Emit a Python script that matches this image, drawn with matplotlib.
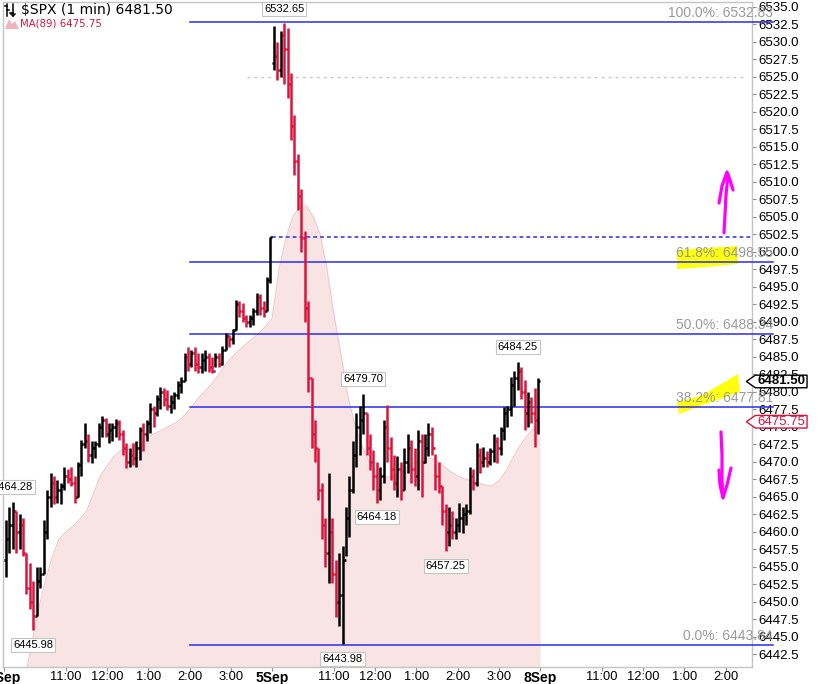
import numpy as np
import matplotlib
matplotlib.use('Agg')
import matplotlib.pyplot as plt
import matplotlib.transforms as mtransforms
from matplotlib.collections import LineCollection
from matplotlib.patches import Polygon

# ---- 5-minute bars, 9:30 -> 16:00 (78 per session) ----
sep4_open = 6456.0
sep4_high = [6461.7, 6463.5, 6464.28, 6463.0, 6462.5, 6462.0, 6457.0, 6455.5, 6453.0, 6455.0,
             6455.0, 6461.7, 6466.0, 6468.4, 6468.0, 6467.4, 6467.0, 6469.3, 6469.0, 6469.3,
             6468.0, 6470.0, 6473.1, 6475.5, 6474.0, 6473.0, 6473.0, 6475.5, 6476.5, 6476.3,
             6475.5, 6475.5, 6476.2, 6476.0, 6474.5, 6472.7, 6472.0, 6472.7, 6473.0, 6475.0,
             6475.5, 6476.0, 6478.4, 6478.0, 6479.5, 6480.7, 6480.5, 6480.3, 6479.5, 6480.0,
             6481.5, 6482.1, 6485.6, 6486.4, 6486.0, 6486.4, 6485.5, 6485.5, 6486.0, 6485.5,
             6485.0, 6485.6, 6485.5, 6486.5, 6488.4, 6488.2, 6489.0, 6493.1, 6493.0, 6492.7,
             6491.0, 6491.0, 6492.0, 6494.1, 6494.0, 6493.0, 6496.4, 6502.1]
sep4_low = [6453.6, 6457.0, 6457.5, 6457.0, 6457.5, 6456.5, 6451.2, 6449.0, 6445.98, 6448.0,
            6452.0, 6454.0, 6459.0, 6463.5, 6464.0, 6464.1, 6464.0, 6466.0, 6467.0, 6466.5,
            6464.1, 6465.0, 6468.0, 6472.0, 6470.0, 6469.8, 6470.5, 6472.2, 6473.6, 6473.5,
            6472.7, 6473.0, 6473.5, 6473.1, 6471.0, 6469.1, 6469.3, 6469.5, 6469.3, 6470.3,
            6471.5, 6473.0, 6474.1, 6475.0, 6476.5, 6477.5, 6478.0, 6477.4, 6477.0, 6477.5,
            6479.0, 6479.9, 6481.5, 6483.0, 6483.5, 6483.0, 6482.7, 6482.7, 6483.0, 6482.8,
            6482.7, 6483.6, 6483.6, 6483.8, 6486.0, 6486.4, 6486.8, 6488.8, 6490.7, 6490.0,
            6489.3, 6489.3, 6489.5, 6491.0, 6491.0, 6490.7, 6491.5, 6495.6]
sep4_close = [6459.0, 6461.0, 6463.0, 6460.0, 6461.0, 6457.0, 6452.0, 6450.0, 6448.0, 6453.0,
              6454.0, 6460.0, 6465.0, 6467.0, 6465.0, 6466.0, 6466.5, 6468.0, 6467.5, 6467.0,
              6465.0, 6469.5, 6472.5, 6473.0, 6471.0, 6472.0, 6472.5, 6475.0, 6476.0, 6474.0,
              6474.5, 6475.0, 6475.5, 6474.0, 6472.0, 6470.0, 6471.0, 6470.5, 6472.0, 6474.5,
              6474.0, 6475.5, 6477.5, 6477.0, 6479.0, 6480.0, 6479.0, 6478.0, 6478.5, 6479.5,
              6481.0, 6481.5, 6485.0, 6484.0, 6485.5, 6484.0, 6483.5, 6484.5, 6485.0, 6483.5,
              6483.0, 6485.0, 6484.0, 6486.0, 6488.0, 6487.5, 6488.8, 6492.5, 6491.5, 6490.5,
              6490.0, 6490.5, 6491.5, 6493.5, 6492.0, 6491.5, 6496.0, 6502.08]

sep5_open = 6527.0
sep5_high = [6532.3, 6530.0, 6531.5, 6532.65, 6532.0, 6525.5, 6519.5, 6514.0, 6509.0, 6503.0,
             6493.0, 6482.0, 6476.0, 6472.0, 6467.0, 6462.0, 6468.4, 6462.0, 6456.0, 6457.0,
             6458.0, 6463.6, 6468.0, 6473.0, 6477.0, 6478.0, 6479.7, 6477.0, 6474.0, 6471.7,
             6470.0, 6469.3, 6476.0, 6478.1, 6473.6, 6471.0, 6470.8, 6470.0, 6472.0, 6474.0,
             6473.1, 6472.0, 6474.6, 6474.0, 6474.0, 6475.5, 6475.0, 6471.2, 6470.0, 6466.5,
             6464.0, 6463.6, 6463.0, 6462.0, 6464.1, 6463.5, 6464.0, 6469.3, 6469.0, 6472.7,
             6472.0, 6472.2, 6471.5, 6472.0, 6474.0, 6473.5, 6475.0, 6477.9, 6478.0, 6482.2,
             6483.0, 6484.25, 6483.5, 6481.7, 6480.0, 6479.3, 6480.5, 6482.0]
sep5_low = [6526.0, 6524.5, 6525.0, 6524.0, 6522.0, 6516.0, 6511.0, 6506.0, 6500.0, 6490.0,
            6480.0, 6472.0, 6470.0, 6464.5, 6459.0, 6455.0, 6452.7, 6452.7, 6447.9, 6446.5,
            6443.98, 6456.5, 6459.3, 6465.5, 6469.3, 6471.0, 6474.0, 6471.0, 6468.9, 6466.0,
            6464.18, 6464.6, 6467.0, 6470.0, 6467.4, 6466.0, 6465.0, 6464.5, 6466.0, 6468.4,
            6467.0, 6466.5, 6466.0, 6465.0, 6469.8, 6470.8, 6471.0, 6466.0, 6465.5, 6461.0,
            6457.25, 6458.0, 6459.0, 6459.0, 6460.0, 6459.8, 6461.0, 6462.5, 6466.0, 6466.5,
            6468.4, 6469.3, 6469.3, 6469.5, 6470.0, 6469.8, 6471.0, 6473.1, 6475.0, 6476.5,
            6478.0, 6480.3, 6479.0, 6474.6, 6475.0, 6475.5, 6472.2, 6474.0]
sep5_close = [6528.0, 6526.0, 6531.0, 6529.0, 6524.0, 6518.0, 6513.0, 6508.0, 6502.0, 6492.0,
              6482.0, 6474.0, 6472.0, 6466.0, 6461.0, 6457.0, 6460.0, 6454.0, 6450.0, 6451.0,
              6456.0, 6462.0, 6466.0, 6471.0, 6475.0, 6476.0, 6477.0, 6472.0, 6470.0, 6468.0,
              6466.0, 6468.0, 6475.0, 6472.0, 6469.0, 6467.0, 6469.0, 6466.0, 6470.0, 6472.0,
              6469.0, 6468.0, 6473.0, 6470.0, 6472.0, 6474.0, 6472.0, 6468.0, 6466.5, 6463.0,
              6460.0, 6461.0, 6460.0, 6461.0, 6462.0, 6462.5, 6463.0, 6468.0, 6467.0, 6471.0,
              6470.0, 6470.5, 6470.0, 6471.5, 6473.0, 6472.0, 6474.5, 6477.0, 6477.5, 6481.0,
              6482.0, 6483.0, 6480.0, 6477.0, 6478.5, 6477.0, 6476.0, 6481.5]

# MA(89) read every 10 minutes from 9:30
ma_sep4 = [6420.0, 6426.0, 6432.0, 6439.0, 6444.0, 6449.0, 6453.0, 6456.5, 6459.0, 6460.0,
           6460.8, 6461.8, 6463.0, 6465.5, 6468.0, 6469.5, 6470.8, 6471.6, 6472.2, 6472.7,
           6473.2, 6473.6, 6474.1, 6474.6, 6475.1, 6475.6, 6476.4, 6477.5, 6478.8, 6479.9,
           6480.9, 6482.2, 6483.6, 6484.8, 6485.8, 6486.7, 6487.5, 6488.3, 6489.3]
ma_sep5 = [6490.5, 6497.5, 6502.0, 6505.0, 6506.5, 6506.6, 6505.0, 6502.5, 6497.5, 6491.0,
           6485.5, 6479.5, 6475.5, 6472.5, 6470.3, 6468.8, 6468.0, 6467.8, 6468.2, 6468.8,
           6469.5, 6470.0, 6470.4, 6470.6, 6470.2, 6469.4, 6468.6, 6468.0, 6467.6, 6467.3,
           6467.0, 6466.7, 6466.6, 6467.3, 6468.6, 6470.5, 6472.2, 6473.6, 6474.8, 6475.75]

fib_pct = ['100.0%', '61.8%', '50.0%', '38.2%', '0.0%']
fib_val = [6532.83, 6498.55, 6488.34, 6477.81, 6443.84]
prev_close = 6502.08
marker_level = 6525.0

# (session, bar, side) of the labelled highs / lows
hl_labels = [(0, 2, 'high'), (0, 8, 'low'), (1, 3, 'high'), (1, 20, 'low'),
             (1, 26, 'high'), (1, 30, 'low'), (1, 50, 'low'), (1, 71, 'high')]

day_names = ['4Sep', '5Sep', '8Sep']
hour_names = ['11:00', '12:00', '1:00', '2:00', '3:00']
hour_offsets = [90, 150, 210, 270, 330]

last_price = 6481.50
last_ma = 6475.75

SESSION = 390
BLUE = '#2b2be8'
RED = '#dc143c'

W, H = 822, 684
fig = plt.figure(figsize=(W / 100, H / 100), dpi=100)
fig.patch.set_facecolor('white')
ax = fig.add_axes([3 / W, 17 / H, 749 / W, 665 / H])
ax.set_facecolor('none')
pix = mtransforms.Affine2D().scale(1 / W, -1 / H).translate(0, 1) + fig.transFigure
xdata_ydata = mtransforms.blended_transform_factory(ax.transAxes, ax.transData)

xmin, xmax = -1.7, 1088.5
ymin, ymax = 6440.71, 6535.71

sessions = [(sep4_open, sep4_high, sep4_low, sep4_close),
            (sep5_open, sep5_high, sep5_low, sep5_close)]

# MA mountain
ma_x = np.concatenate([np.arange(len(ma_sep4)) * 10.0,
                       SESSION + np.arange(len(ma_sep5)) * 10.0])
ma_y = np.array(ma_sep4 + ma_sep5)
ax.fill_between(ma_x, ymin - 5, ma_y, color='#f8e4e5', lw=0, zorder=1)
ax.plot(ma_x, ma_y, color='#f1c9ce', lw=0.8, zorder=1.2)

# OHLC bars
segs, cols = [], []
for d, (op0, hi, lo, cl) in enumerate(sessions):
    opens = [op0] + cl[:-1]
    for i in range(len(hi)):
        x = d * SESSION + 5 * i + 2.5
        c = 'black' if cl[i] >= opens[i] else RED
        segs += [[(x, lo[i]), (x, hi[i])],
                 [(x - 2.6, opens[i]), (x, opens[i])],
                 [(x, cl[i]), (x + 2.6, cl[i])]]
        cols += [c, c, c]
ax.add_collection(LineCollection(segs, colors=cols, linewidths=1.8, zorder=4))

# fib retracement lines and labels
x_start = (270 - xmin) / (xmax - xmin)
x_end = 1.028
for pct, val in zip(fib_pct, fib_val):
    ax.plot([x_start, x_end], [val, val], color=BLUE, lw=1.1, transform=xdata_ydata,
            clip_on=False, zorder=3)
    ax.annotate(f'{pct}: {val:.2f}', xy=(x_end, val), xycoords=xdata_ydata,
                xytext=(0, 1.5), textcoords='offset points', ha='right', va='bottom',
                fontsize=10, color='#9a9a9a', family='Liberation Sans',
                annotation_clip=False, zorder=6)

ax.plot([SESSION, xmax], [prev_close, prev_close], color=BLUE, lw=1.1,
        ls=(0, (2.5, 2)), zorder=3)
ax.plot([354, 1075], [marker_level, marker_level], color='#c8c8c8', lw=1,
        ls=(0, (2, 3)), zorder=2)

# high / low value boxes
for d, i, side in hl_labels:
    hi, lo = sessions[d][1], sessions[d][2]
    x = d * SESSION + 5 * i + 2.5
    val = hi[i] if side == 'high' else lo[i]
    dy = 7 if side == 'high' else -7
    ax.annotate(f'{val:.2f}', xy=(x, val), xytext=(0, dy), textcoords='offset points',
                ha='center', va='bottom' if side == 'high' else 'top',
                fontsize=8, family='Liberation Sans', color='black', zorder=7,
                annotation_clip=False,
                bbox=dict(boxstyle='square,pad=0.18', fc='white', ec='#c4c4c4', lw=0.8))

# axes styling
for sp in ax.spines.values():
    sp.set_color('#c4c4c4')
    sp.set_linewidth(1)
ax.yaxis.tick_right()
yt = np.arange(6442.5, 6535.01, 2.5)
ax.set_yticks(yt)
ax.set_yticklabels([f'{v:.1f}' for v in yt], family='Liberation Sans', fontsize=9.5)
ax.tick_params(axis='y', length=3, width=0.8, color='#909090', pad=1.5)

xt, xl = [], []
for d, name in enumerate(day_names):
    xt.append(d * SESSION)
    xl.append(name)
    for off, hn in zip(hour_offsets, hour_names):
        if d * SESSION + off < xmax - 10:
            xt.append(d * SESSION + off)
            xl.append(hn)
ax.set_xticks(xt)
ax.set_xticklabels(xl, family='Liberation Sans', fontsize=9.3)
for lab in ax.get_xticklabels():
    if lab.get_text().endswith('Sep'):
        lab.set_fontweight('bold')
        lab.set_fontsize(10)
ax.tick_params(axis='x', length=3, width=0.8, color='#909090', pad=0)
ax.set_xlim(xmin, xmax)
ax.set_ylim(ymin, ymax)

# last price / last MA tags on the price axis
for val, fc, ec, tc, fw in [(last_price, 'white', 'black', 'black', 'bold'),
                            (last_ma, 'white', RED, RED, 'normal')]:
    tag = Polygon([(0.9925, val), (1.0045, val + 0.9), (1.0735, val + 0.9),
                   (1.0735, val - 0.9), (1.0045, val - 0.9)], closed=True,
                  transform=xdata_ydata, fc=fc, ec=ec, lw=1, clip_on=False, zorder=8)
    ax.add_patch(tag)
    ax.text(1.039, val, f'{val:.2f}', transform=xdata_ydata, ha='center', va='center',
            fontsize=9.5, fontweight=fw, color=tc, family='Liberation Sans',
            clip_on=False, zorder=9)

# legend header
for pts in [[(7, 4), (7, 16)], [(4, 6), (7, 6)], [(7, 10), (9, 10)],
            [(13, 4), (13, 16)], [(10, 13), (13, 13)], [(11, 14), (13, 16), (15, 14)]]:
    ax.add_line(plt.Line2D(*zip(*pts), transform=pix, color='black', lw=1.1, clip_on=False))
fig.text(21 / W, 1 - 10 / H, r'\$SPX (1 min) ' + f'{last_price:.2f}', fontsize=10,
         va='center', ha='left', color='black')
ax.add_patch(Polygon([(5, 29), (9, 19), (12, 24), (15, 21), (19, 29)], transform=pix,
                     fc='#f3b3bc', ec='none', clip_on=False))
fig.text(20 / W, 1 - 24 / H, f'MA(89) {last_ma:.2f}', fontsize=7.3, va='center',
         ha='left', color=RED)

# yellow highlighter marks
for pts in [[(677, 250), (707, 248), (737, 246), (738, 264), (707, 267), (677, 269)],
            [(677, 402), (700, 396), (718, 386), (738, 374), (740, 392), (720, 399),
             (700, 406), (679, 414)]]:
    ax.add_patch(Polygon(pts, transform=pix, fc='#ffff00', ec='none', alpha=0.95,
                         clip_on=False, zorder=2.5))

# magenta hand-drawn arrows
for pts in [[(724, 233), (725, 215), (726, 195), (728, 175)],
            [(719, 203), (722, 186), (727, 172), (730, 180), (733, 190)],
            [(721, 432), (722, 455), (722, 480), (723, 497)],
            [(719, 470), (720, 485), (723, 498), (727, 485), (731, 468)]]:
    ax.add_line(plt.Line2D(*zip(*pts), transform=pix, color='#ff00ff', lw=2.3,
                           solid_capstyle='round', solid_joinstyle='round', clip_on=False,
                           zorder=9))

fig.savefig('out.png', dpi=100)
